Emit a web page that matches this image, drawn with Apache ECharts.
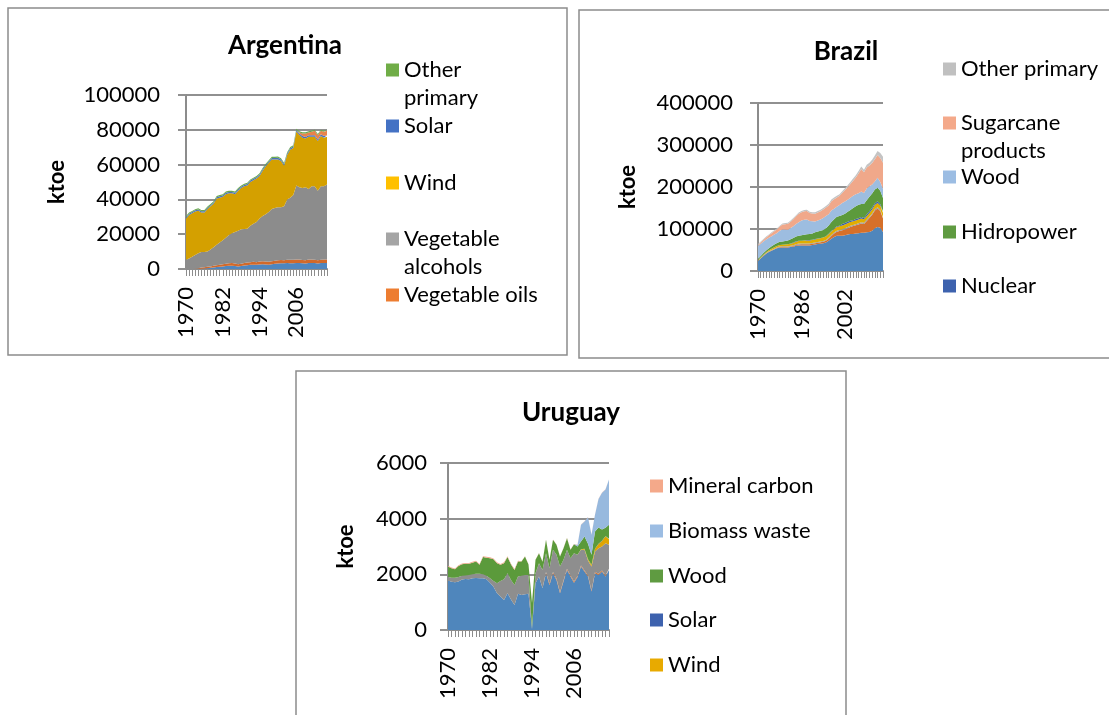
<!DOCTYPE html>
<html><head><meta charset="utf-8">
<script src="https://cdn.jsdelivr.net/npm/echarts@6/dist/echarts.min.js"></script>
<style>html,body{margin:0;padding:0;background:#fff}#c{width:1109px;height:715px}</style>
</head><body><div id="c"></div><script>
const years = ['1970','1971','1972','1973','1974','1975','1976','1977','1978','1979',
'1980','1981','1982','1983','1984','1985','1986','1987','1988','1989',
'1990','1991','1992','1993','1994','1995','1996','1997','1998','1999',
'2000','2001','2002','2003','2004','2005','2006','2007','2008','2009',
'2010','2011','2012','2013','2014','2015','2016'];

// ---------- Argentina (ktoe), stacked bottom to top ----------
const argUnlabelled1 = [0,0,0,0,100,200,300,500,700,900, 1100,1300,1500,1700,1800,1900,1700,1500,1700,2000, 2200,2400,2500,2400,2600,2700,2600,2500,2800,3000, 3200,3300,3300,3400,3300,3300,3500,3400,3300,3200, 3400,3500,3400,3200,3400,3500,3500];
const argVegetableOils = [0,0,0,200,400,600,700,800,800,900, 1000,1100,1200,1300,1500,1600,1500,1200,1300,1400, 1500,1500,1600,1500,1700,1800,1700,1600,1700,1800, 1900,1900,1800,1900,2000,2000,2000,2000,1900,1900, 2000,2000,1900,1800,1900,1900,2000];
const argVegetableAlcohols = [5300,6000,7000,7800,8500,8900,8800,8700,9700,10700, 11900,12800,13800,15000,16200,17100,18000,19300,19800,19600, 19500,20900,21900,23100,24700,26000,27200,28700,30000,30200, 30400,30300,30900,34700,35700,37200,42500,41600,41300,41900, 40600,42000,42200,40000,42200,42100,43000];
const argWind = [23700,25000,25000,25000,24500,22800,22700,24500,24800,25000, 26500,25800,25000,25000,24000,22900,21800,23000,23700,24500, 24800,25200,25000,25000,24500,26000,27500,28200,28500,28000, 27500,26500,23500,25500,27500,27000,31000,30000,29000,28000, 30000,28500,28500,28500,29000,28000,27500];
const argSolar = [700,700,700,700,700,700,700,700,700,700, 800,800,800,800,800,800,800,800,800,800, 800,800,800,800,800,800,800,800,800,800, 900,900,900,900,900,900,900,900,900,900, 900,900,900,900,900,900,900];
const argUnlabelled2 = [0,0,0,0,0,0,0,0,0,0, 0,0,0,0,0,0,0,0,0,0, 0,0,0,0,0,0,0,0,0,0, 0,0,0,0,0,0,0,500,1500,2000, 1500,2000,2500,2500,2000,2500,2500];
const argOtherPrimary = [700,700,700,700,700,700,700,700,700,700, 700,700,700,700,700,700,700,700,700,700, 700,700,700,700,700,700,700,700,700,700, 700,700,700,700,700,700,700,700,700,700, 700,700,700,700,700,700,700];

// ---------- Brazil (ktoe) ----------
const brUnlabelled1 = [24000,30000,36000,41000,45000,48000,51000,54000,56000,56000, 56000,56000,57000,58000,60000,61000,61000,61000,61000,61000, 62000,63000,64000,65000,66000,68000,72000,77000,81000,84000, 84000,84000,85000,87000,88000,88000,89000,90000,91000,91000, 92000,93000,96000,102000,105000,103000,93000];
const brUnlabelled2 = [500,600,700,800,900,1000,1000,1100,1200,1300, 1400,1500,1600,1800,2000,2200,2400,2500,2600,2700, 2800,3000,3200,3400,3600,4000,5000,6500,8000,9500, 11000,13000,14000,15000,17000,19000,20000,21000,22000,21000, 27000,33000,38000,42000,44000,40000,32000];
const brUnlabelled3 = [500,600,700,800,900,1000,1100,1200,1300,1400, 1500,1600,1700,1800,1900,2000,2000,2000,2000,2000, 2000,2000,2000,2000,2000,2000,2200,2300,2400,2500, 2500,2500,2500,2500,2500,2500,2500,2500,3000,3000, 3000,3000,3000,3000,3000,3000,3000];
const brUnlabelled4 = [1000,1200,1500,2000,2500,3000,3200,3500,3700,3800, 4000,4300,4800,5300,5800,6000,6500,7000,7000,7000, 7000,7200,7500,7700,8000,8000,8200,8500,8700,9000, 9000,9000,9000,9000,9000,9000,9000,9000,9000,8000, 8500,9000,9500,10000,10000,10000,10000];
const brNuclear = [0,0,0,0,0,0,0,0,0,0, 0,0,300,800,1000,1000,300,200,1000,1000, 500,900,700,500,100,1000,1000,1100,1000,1500, 1500,3700,3600,3500,3000,2500,3500,3200,3600,3300, 3800,4000,4200,3900,4000,3800,4000];
const brHidropower = [3000,3300,3700,4200,5000,6000,6500,7000,7500,8000, 8500,9000,10000,11000,11500,12000,13000,13500,14000,14500, 15000,16000,16500,17000,18000,19000,20000,21000,22000,22500, 23000,21000,22000,24000,26000,29000,30000,32000,31000,33000, 34000,35000,34000,33000,32000,31000,32000];
const brWood = [31000,29300,27400,26100,24600,23800,24000,23900,26000,28600, 27200,26100,27100,27700,29600,32000,34900,35800,35300,30600, 29400,26000,26600,27300,28600,28700,26700,27600,25400,24000, 25900,28600,29600,28500,28800,29000,28700,27700,29400,26700, 28200,25000,21300,19100,24000,21200,22000];
const brSugarcane = [2000,3000,4000,5000,6000,7000,8000,9000,10000,11500, 13000,14000,15000,17000,18500,20000,20000,20000,20000,19000, 18000,18500,19000,19500,20000,20500,21000,22000,22500,22000, 22000,24000,27000,30000,33000,36000,40000,47000,54000,49000, 50000,49000,51000,53000,54000,57000,62000];
const brOtherPrimary = [2000,2000,2000,2100,2100,2200,2200,2300,2300,2400, 2400,2500,2500,2600,2700,2800,2900,3000,3100,3200, 3300,3400,3500,3600,3700,3800,3900,4000,4000,4000, 4100,4200,4300,4500,4700,5000,5300,5600,6000,6000, 6500,7000,8000,9000,10000,12000,14000];

// ---------- Uruguay (ktoe) ----------
const urUnlabelled1 = [1780,1730,1720,1740,1810,1830,1820,1860,1870,1860, 1860,1820,1700,1550,1320,1200,1080,1320,1100,900, 1300,1260,1280,1300,40,1680,1920,1500,2040,1620, 2040,1800,1320,1740,2160,1920,1700,1900,2280,2100, 1920,1380,2040,1980,2100,1920,2160];
const urUnlabelled2 = [0,0,0,0,0,0,0,0,0,0, 0,0,0,0,0,0,0,0,0,0, 0,0,0,0,0,0,0,0,40,40, 40,40,40,40,40,40,40,40,40,40, 40,40,40,40,40,40,40];
const urUnlabelled3 = [120,150,160,160,140,130,160,140,150,160, 140,130,160,210,360,560,740,720,700,720, 620,690,700,680,30,360,480,660,680,560, 800,860,920,740,680,620,1020,760,560,740, 540,860,740,920,860,1160,860];
const urWind = [0,0,0,0,0,0,0,0,0,0, 0,0,0,0,0,0,0,0,0,0, 0,0,0,0,0,0,0,0,0,0, 0,0,0,0,0,0,0,0,20,40, 40,60,100,150,200,250,200];
const urSolar = [0,0,0,0,0,0,0,0,0,0, 0,0,0,0,0,0,0,0,0,0, 0,0,0,0,0,0,0,0,0,0, 0,0,0,0,0,0,0,0,0,0, 0,0,0,5,10,10,15];
const urWood = [380,340,300,400,410,420,400,420,440,320, 620,650,720,780,720,580,580,580,550,540, 540,510,660,370,900,480,360,290,480,300, 360,360,360,420,420,300,320,300,280,440, 560,360,620,590,400,290,510];
const urBiomassWaste = [0,0,0,0,0,0,0,0,0,0, 0,0,0,0,0,0,0,0,0,0, 0,0,0,0,0,0,0,0,0,0, 0,0,0,0,0,0,0,50,600,540, 950,720,600,1020,1320,1380,1620];
const urMineralCarbon = [30,30,30,30,30,30,30,30,30,30, 30,30,30,30,30,30,30,30,30,30, 30,10,10,10,10,10,10,10,10,10, 10,10,10,10,10,10,10,10,10,10, 10,10,10,10,10,10,10];

const FONT = 'Lato, "Liberation Sans", sans-serif';
const AX = '#8c8c8c', GR = '#909090';

function xAxisFor(gi, interval) {
  return { gridIndex: gi, type: 'category', boundaryGap: false, data: years,
    axisLine: { lineStyle: { color: AX, width: 2 } },
    axisTick: { show: true, interval: 0, length: 7, lineStyle: { color: AX, width: 1 } },
    axisLabel: { interval: interval, rotate: 90, fontSize: 22, fontFamily: FONT, color: '#000', margin: 18 },
    splitLine: { show: false } };
}
function yAxisFor(gi, max, interval, nameGap, margin) {
  return { gridIndex: gi, type: 'value', min: 0, max: max, interval: interval,
    name: 'ktoe', nameLocation: 'middle', nameRotate: 90, nameGap: nameGap,
    nameTextStyle: { fontSize: 22, fontWeight: 'bold', fontFamily: FONT, color: '#000' },
    axisLine: { show: true, lineStyle: { color: AX, width: 2 } },
    axisTick: { show: true, length: 8, lineStyle: { color: GR, width: 2 } },
    axisLabel: { fontSize: 22, fontFamily: FONT, color: '#000', margin: margin, formatter: v => String(v) },
    splitLine: { show: true, lineStyle: { color: GR, width: 2 } } };
}
function area(name, data, color, idx, stack) {
  return { name: name, type: 'line', xAxisIndex: idx, yAxisIndex: idx, stack: stack, data: data,
    symbol: 'none', silent: true, lineStyle: { width: 0 }, itemStyle: { color: color },
    areaStyle: { color: color, opacity: 1 } };
}
// two-line labels get a blank first line so that their first line sits level with the square
function leg(name, color, left, top, formatter) {
  return { data: [{ name: name, icon: 'rect', itemStyle: { color: color, borderWidth: 0 } }],
    left: left, top: top, orient: 'vertical', padding: 0, itemWidth: 13, itemHeight: 13,
    selectedMode: false, formatter: formatter || '{name}',
    textStyle: { fontSize: 22, fontFamily: FONT, color: '#000', lineHeight: 28 } };
}

const option = {
  animation: false,
  backgroundColor: '#fff',
  grid: [
    { left: 186, top: 95, width: 141, height: 174 },
    { left: 758, top: 103, width: 125, height: 168 },
    { left: 448, top: 463, width: 161, height: 167 }
  ],
  xAxis: [xAxisFor(0, 11), xAxisFor(1, 15), xAxisFor(2, 11)],
  yAxis: [yAxisFor(0, 100000, 20000, 118, 26), yAxisFor(1, 400000, 100000, 119, 25), yAxisFor(2, 6000, 2000, 91, 21)],
  legend: [
    leg('Other primary', '#70ad47', 386, 28, ' \nOther\nprimary'),
    leg('Solar', '#4472c4', 386, 112),
    leg('Wind', '#ffc000', 386, 169),
    leg('Vegetable alcohols', '#a5a5a5', 386, 197, ' \nVegetable\nalcohols'),
    leg('Vegetable oils', '#ed7d31', 386, 281),
    leg('Other primary', '#c0c0c0', 943, 55),
    leg('Sugarcane products', '#f4a98a', 943, 81, ' \nSugarcane\nproducts'),
    leg('Wood', '#9cbde3', 943, 163),
    leg('Hidropower', '#5f9b41', 943, 218),
    leg('Nuclear', '#3d62ae', 943, 272),
    leg('Mineral carbon', '#f4a98a', 650, 472),
    leg('Biomass waste', '#9cbde3', 650, 517),
    leg('Wood', '#5f9b41', 650, 562),
    leg('Solar', '#3d62ae', 650, 606),
    leg('Wind', '#e8aa00', 650, 651)
  ],
  graphic: [
    { type: 'rect', shape: { x: 8, y: 8, width: 559, height: 347 }, style: { fill: 'none', stroke: '#8c8c8c', lineWidth: 1.5 }, silent: true },
    { type: 'rect', shape: { x: 579, y: 10, width: 560, height: 348 }, style: { fill: 'none', stroke: '#8c8c8c', lineWidth: 1.5 }, silent: true },
    { type: 'rect', shape: { x: 296, y: 371, width: 550, height: 380 }, style: { fill: 'none', stroke: '#8c8c8c', lineWidth: 1.5 }, silent: true },
    { type: 'text', x: 285, y: 46, silent: true, style: { text: 'Argentina', font: 'bold 26px ' + FONT, fill: '#000', align: 'center', verticalAlign: 'middle', textAlign: 'center', textVerticalAlign: 'middle' } },
    { type: 'text', x: 846, y: 52, silent: true, style: { text: 'Brazil', font: 'bold 26px ' + FONT, fill: '#000', align: 'center', verticalAlign: 'middle', textAlign: 'center', textVerticalAlign: 'middle' } },
    { type: 'text', x: 571, y: 413, silent: true, style: { text: 'Uruguay', font: 'bold 26px ' + FONT, fill: '#000', align: 'center', verticalAlign: 'middle', textAlign: 'center', textVerticalAlign: 'middle' } }
  ],
  series: [
    area('(unlabelled A1)', argUnlabelled1, '#4f86bf', 0, 'ar'),
    area('Vegetable oils', argVegetableOils, '#d2692a', 0, 'ar'),
    area('Vegetable alcohols', argVegetableAlcohols, '#8c8c8c', 0, 'ar'),
    area('Wind', argWind, '#d4a000', 0, 'ar'),
    area('Solar', argSolar, '#4a72bd', 0, 'ar'),
    area('(unlabelled A2)', argUnlabelled2, '#e8834a', 0, 'ar'),
    area('Other primary', argOtherPrimary, '#6aa84f', 0, 'ar'),

    area('(unlabelled B1)', brUnlabelled1, '#4f86bc', 1, 'br'),
    area('(unlabelled B2)', brUnlabelled2, '#d6702a', 1, 'br'),
    area('(unlabelled B3)', brUnlabelled3, '#9a9a9a', 1, 'br'),
    area('(unlabelled B4)', brUnlabelled4, '#e2ad00', 1, 'br'),
    area('Nuclear', brNuclear, '#3a5ea6', 1, 'br'),
    area('Hidropower', brHidropower, '#5c9a3c', 1, 'br'),
    area('Wood', brWood, '#9dbde0', 1, 'br'),
    area('Sugarcane products', brSugarcane, '#f0a88a', 1, 'br'),
    area('Other primary', brOtherPrimary, '#c4c4c4', 1, 'br'),

    area('(unlabelled U1)', urUnlabelled1, '#4f86bc', 2, 'ur'),
    area('(unlabelled U2)', urUnlabelled2, '#d6702a', 2, 'ur'),
    area('(unlabelled U3)', urUnlabelled3, '#8e8e8e', 2, 'ur'),
    area('Wind', urWind, '#e0a500', 2, 'ur'),
    area('Solar', urSolar, '#3a5ea6', 2, 'ur'),
    area('Wood', urWood, '#5b9a3b', 2, 'ur'),
    area('Biomass waste', urBiomassWaste, '#97b9de', 2, 'ur'),
    area('Mineral carbon', urMineralCarbon, '#f0a88a', 2, 'ur')
  ]
};
const chart = echarts.init(document.getElementById('c'));
chart.setOption(option);
</script></body></html>
